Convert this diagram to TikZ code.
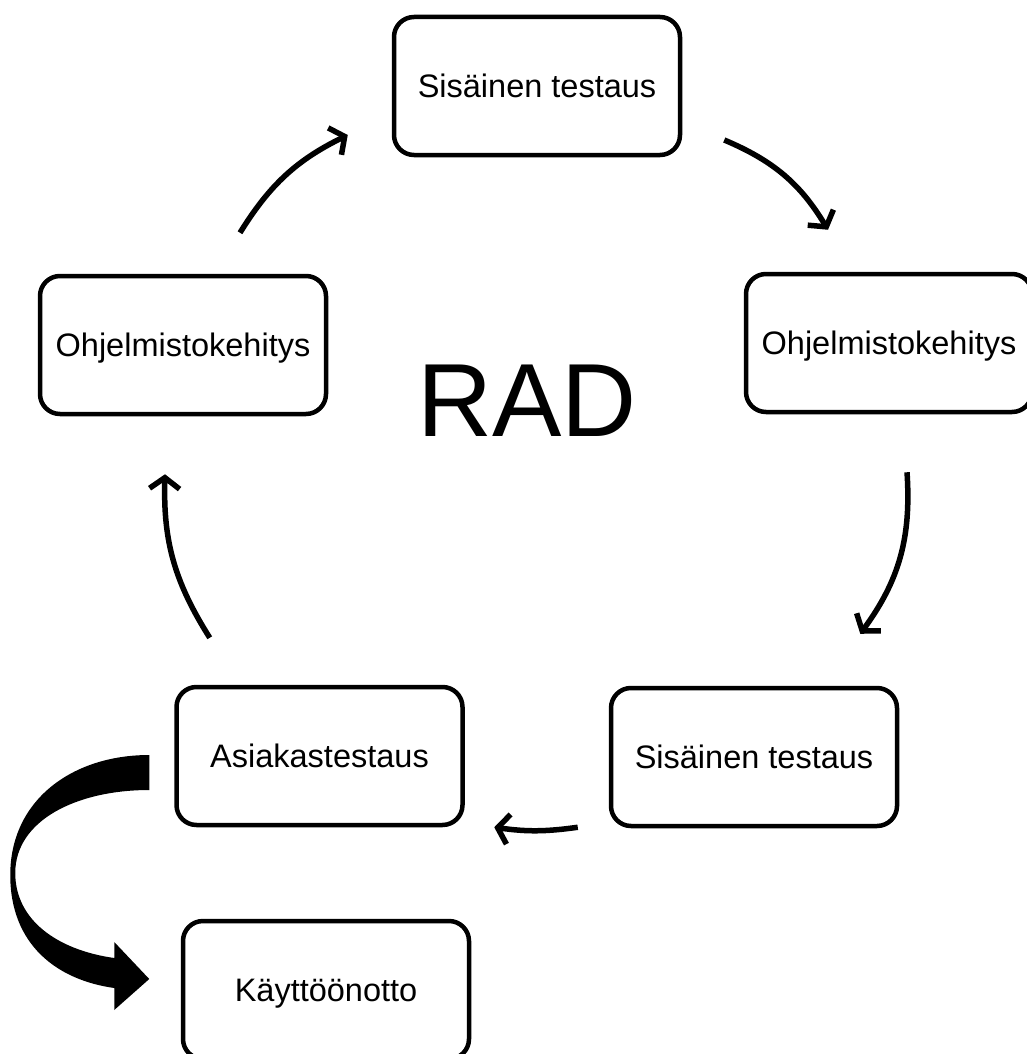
\documentclass[tikz,border=0pt]{standalone}
\usepackage{fontspec}
\setmainfont{Liberation Sans}
\usetikzlibrary{calc,arrows.meta}

\begin{document}
\begin{tikzpicture}[
            x=1pt, y=1pt,
            stagebox/.style={
                rectangle, rounded corners=20pt, line width=4.5pt,
                draw=black,
                minimum width=286pt,
                minimum height=138pt,
                inner sep=0pt,
                font=\fontsize{32.5}{38}\selectfont,
                text height=23pt, text depth=0pt
            },
            flow/.style={line width=5.5pt, -{Straight Barb[length=11pt,width=30pt]}},
        ]

            \useasboundingbox (0,0) rectangle (1027,-1054);

            \node [stagebox] (test1)   at (537,-86)   {Sisäinen testaus};
            \node [stagebox] (dev2)    at (889,-343)  {Ohjelmistokehitys};
            \node [stagebox] (test2)   at (754,-757)  {Sisäinen testaus};
            \node [stagebox] (client)  at (319.5,-756) {Asiakastestaus};
            \node [stagebox] (dev1)    at (183,-345)  {Ohjelmistokehitys};
            \node [stagebox] (deploy)  at (326,-990)  {Käyttöönotto};

            \node [font=\fontsize{104}{110}\selectfont, inner sep=0pt] (rad) at (527,-401) {RAD};

            \draw [flow] ($(dev1.north)+(57,41)$)        to[bend left=16] ($(test1.west)+(-44,-49)$);
            \draw [flow] ($(test1.east)+(42,-54)$)       to[bend left=18] ($(dev2.north)+(-61,42)$);
            \draw [flow] ($(dev2.south)+(18,-58)$)       to[bend left=20] ($(test2.north east)+(-39,52)$);
            \draw [flow] ($(test2.south west)+(-31,1)$)  to[bend left=8]  ($(client.south east)+(29.5,0)$);
            \draw [flow] ($(client.north west)+(35.5,47)$) to[bend left=17] ($(dev1.south)+(-18,-58)$);

            \begin{scope}[shift={(client.west)}]
                \fill [black] (-25,1) .. controls (-102,1) and (-164,-44) .. (-164,-119)
                    .. controls (-164,-189) and (-117,-224) .. (-60,-232)
                    -- (-60,-254) -- (-25,-223) -- (-60,-186) -- (-60,-202)
                    .. controls (-117,-194) and (-159,-164) .. (-159,-117)
                    .. controls (-159,-64) and (-97,-34) .. (-25,-34) -- cycle;
            \end{scope}

        \end{tikzpicture}
\end{document}
